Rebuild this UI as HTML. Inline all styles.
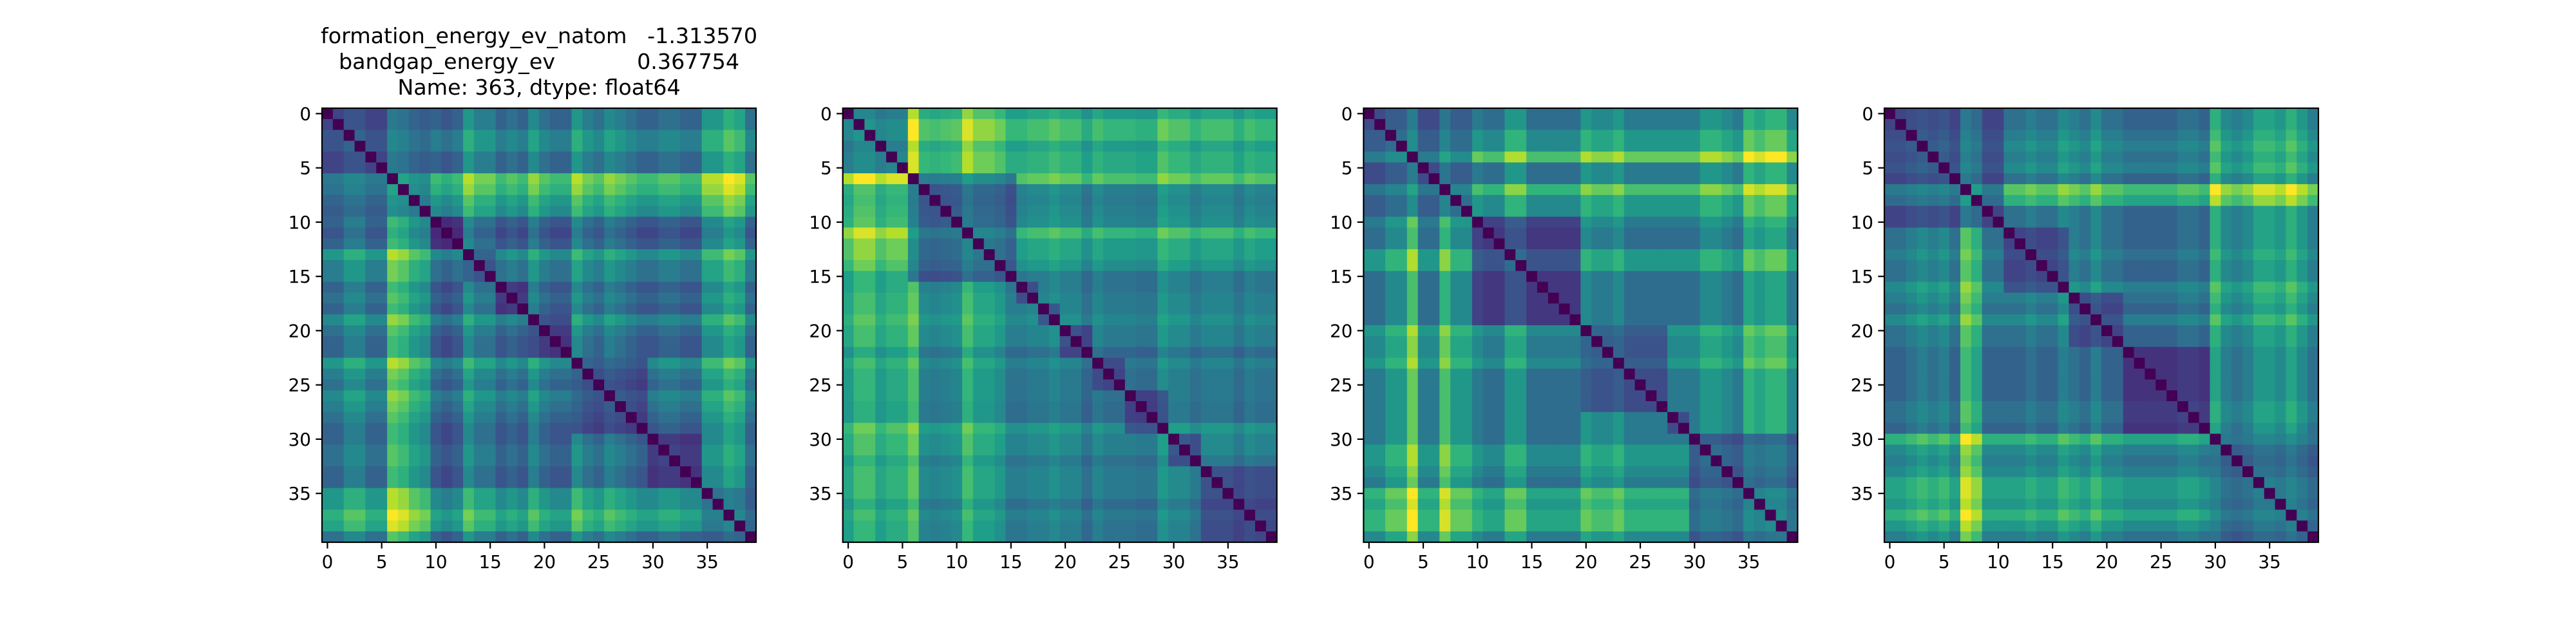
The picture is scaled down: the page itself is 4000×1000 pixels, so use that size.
<!DOCTYPE html>
<html><head><meta charset="utf-8">
<style>
html,body{margin:0;padding:0;background:#fff;}
svg{display:block;font-family:"DejaVu Sans","Liberation Sans",sans-serif;}
</style></head>
<body>
<svg id="fig" width="4000" height="1000" viewBox="0 0 4000 1000" xmlns="http://www.w3.org/2000/svg">
<rect width="4000" height="1000" fill="#fff"/>
<g font-size="33.3" fill="#000" text-anchor="middle">
<text x="837" y="67" xml:space="preserve" textLength="678" lengthAdjust="spacing">formation_energy_ev_natom   -1.313570</text>
<text x="837" y="107" xml:space="preserve" textLength="622" lengthAdjust="spacing">bandgap_energy_ev            0.367754</text>
<text x="837" y="147">Name: 363, dtype: float64</text>
</g>
</svg>
<script>
// Per-row strength estimates and block ranges for each matrix
const strength1 = [.35,.35,.45,.45,.35,.35,.7,.65,.55,.5,.3,.25,.3,.5,.4,.4,.3,.35,.3,.45,.35,.3,.3,.5,.4,.35,.45,.4,.35,.3,.3,.35,.35,.3,.3,.5,.5,.6,.55,.35];
const blocks1 = [[0,9],[10,12],[13,15],[16,18],[19,22],[23,29],[30,34],[35,39]];
const strength2 = [.5,.6,.6,.5,.55,.55,.65,.4,.38,.4,.42,.6,.5,.5,.45,.35,.35,.38,.38,.42,.38,.38,.3,.38,.34,.34,.34,.32,.32,.45,.4,.4,.34,.38,.38,.38,.32,.38,.35,.35];
const blocks2 = [[0,5],[6,15],[16,17],[18,19],[20,22],[23,25],[26,29],[30,32],[33,39]];
const strength3 = [.35,.35,.45,.45,.65,.35,.35,.6,.45,.45,.35,.3,.3,.45,.45,.3,.3,.3,.3,.3,.45,.4,.4,.45,.35,.35,.35,.35,.35,.35,.35,.45,.45,.4,.35,.55,.5,.55,.55,.4];
const blocks3 = [[0,9],[10,19],[20,27],[28,29],[30,39]];
const strength4 = [.35,.35,.4,.45,.4,.45,.35,.7,.6,.35,.35,.35,.35,.4,.35,.35,.45,.4,.35,.45,.35,.35,.3,.3,.3,.3,.3,.35,.35,.3,.6,.45,.4,.45,.55,.55,.5,.6,.5,.4];
const blocks4 = [[0,10],[11,16],[17,21],[22,29],[30,39]];
const tickLabels = ["0","5","10","15","20","25","30","35"];
const tickValues = [0,5,10,15,20,25,30,35];

const matrices = [[strength1,blocks1],[strength2,blocks2],[strength3,blocks3],[strength4,blocks4]];
const VIR = [[68,1,84],[72,40,120],[62,74,137],[49,104,142],[38,130,142],[31,158,137],[53,183,121],[109,205,89],[180,222,44],[253,231,37]];
function viridis(t){t=Math.max(0,Math.min(1,t));const p=t*(VIR.length-1);const i=Math.min(VIR.length-2,Math.floor(p));const f=p-i;
 const c=VIR[i].map((v,k)=>Math.round(v+(VIR[i+1][k]-v)*f));return `rgb(${c[0]},${c[1]},${c[2]})`;}
function blockOf(b,i){for(let k=0;k<b.length;k++){if(i>=b[k][0]&&i<=b[k][1])return k;}return -1;}
const NS="http://www.w3.org/2000/svg";
const svg=document.getElementById('fig');
const AX_W=674, AX_TOP=168;
function mk(tag,attrs,parent){const e=document.createElementNS(NS,tag);for(const k in attrs)e.setAttribute(k,attrs[k]);parent.appendChild(e);return e;}
matrices.forEach((m,mi)=>{
 const [s,b]=m; const n=s.length;
 const left=500+mi*808.67; const cw=AX_W/n;
 const xs=i=>left+i*cw, ys=i=>AX_TOP+i*cw;
 const g=mk('g',{},svg);
 
 
 const vals=[];let mx=0;
 for(let i=0;i<n;i++){vals.push([]);for(let j=0;j<n;j++){let v=0;if(i!==j){v=Math.max(0.08,s[i]+s[j]-0.35);if(blockOf(b,i)===blockOf(b,j))v*=0.55;}vals[i].push(v);if(v>mx)mx=v;}}
 for(let i=0;i<n;i++)for(let j=0;j<n;j++){
  const r=mk('rect',{x:xs(j).toFixed(2),y:ys(i).toFixed(2),width:(cw+0.6).toFixed(2),height:(cw+0.6).toFixed(2),fill:viridis(vals[i][j]/mx)},g);
  
  
 }
 const fr=mk('rect',{x:left,y:AX_TOP,width:AX_W,height:AX_W,fill:'none',stroke:'#000','stroke-width':2.2},g);
 
 
 tickValues.forEach((tv,k)=>{
  const cx=xs(tv)+cw/2, cy=ys(tv)+cw/2, bot=AX_TOP+AX_W;
  mk('line',{x1:cx,y1:bot,x2:cx,y2:bot+9.7,stroke:'#000','stroke-width':2.2},g);
  const xt=mk('text',{x:cx,y:bot+40,'font-size':27.8,'text-anchor':'middle',fill:'#000'},g);
  xt.textContent=tickLabels[k];
  
  
  mk('line',{x1:left,y1:cy,x2:left-9.7,y2:cy,stroke:'#000','stroke-width':2.2},g);
  const yt=mk('text',{x:left-17,y:cy+10,'font-size':27.8,'text-anchor':'end',fill:'#000'},g);
  yt.textContent=tickLabels[k];
  
  
 });
});
</script>
</body></html>
